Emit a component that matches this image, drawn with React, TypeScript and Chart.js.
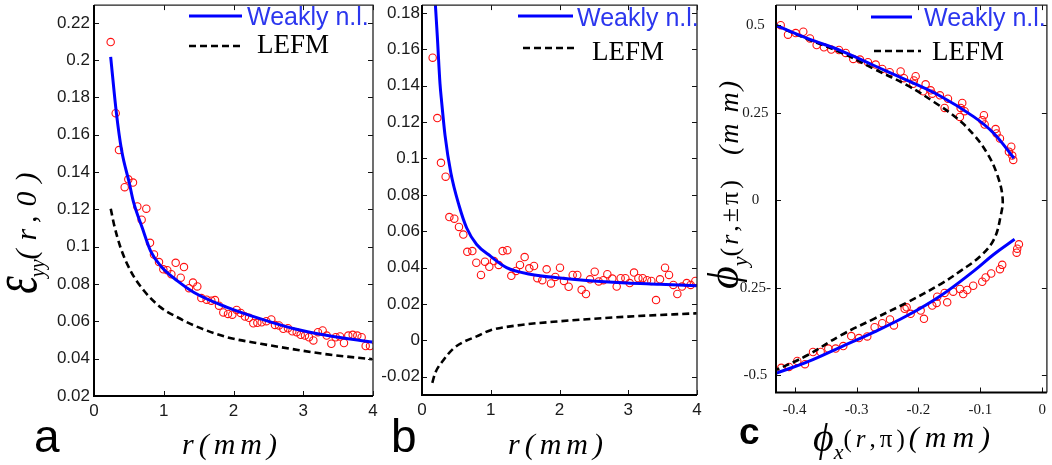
import React, { useEffect, useRef } from "react";
import { Chart, registerables } from "chart.js";

Chart.register(...registerables);

const SANS = '"Liberation Sans", Arial, Helvetica, sans-serif';
const SERIF = '"Liberation Serif", "Times New Roman", Times, serif';

// ---------------- Panel a ----------------
const A_X_TICKS = [0, 1, 2, 3, 4];
const A_X_LABELS = ["0", "1", "2", "3", "4"];
const A_Y_TICKS = [0.02, 0.04, 0.06, 0.08, 0.1, 0.12, 0.14, 0.16, 0.18, 0.2, 0.22];
const A_Y_LABELS = ["0.02", "0.04", "0.06", "0.08", "0.1", "0.12", "0.14", "0.16", "0.18", "0.2", "0.22"];
const A_WEAK_R = [0.239, 0.32, 0.395, 0.507, 0.564, 0.693, 0.812, 0.956, 1.195, 1.434, 1.91, 2.39, 2.87, 3.35, 3.99];
const A_WEAK_V = [0.2018, 0.172, 0.1518, 0.134, 0.1243, 0.11, 0.0977, 0.0897, 0.0817, 0.0755, 0.0675, 0.0613, 0.056, 0.0524, 0.0489];
const A_LEFM_R = [0.24, 0.287, 0.382, 0.526, 0.717, 0.956, 1.195, 1.434, 1.91, 2.39, 2.87, 3.35, 3.99];
const A_LEFM_V = [0.1204, 0.1119, 0.0994, 0.087, 0.0764, 0.0675, 0.0622, 0.0578, 0.0515, 0.048, 0.045, 0.0423, 0.0397];
const A_CIRC_R = [0.239, 0.311, 0.358, 0.44, 0.492, 0.559, 0.621, 0.683, 0.75, 0.803, 0.86, 0.932, 0.994, 1.051, 1.109, 1.171, 1.243, 1.29, 1.362, 1.419, 1.481, 1.539, 1.615, 1.682, 1.735, 1.792, 1.854, 1.921, 1.983, 2.045, 2.103, 2.165, 2.222, 2.284, 2.342, 2.404, 2.471, 2.542, 2.595, 2.652, 2.714, 2.781, 2.843, 2.906, 2.963, 3.025, 3.082, 3.145, 3.211, 3.278, 3.336, 3.403, 3.465, 3.527, 3.584, 3.646, 3.709, 3.775, 3.837, 3.895, 3.957];
const A_CIRC_V = [0.2097, 0.1716, 0.1518, 0.1319, 0.1361, 0.1344, 0.1216, 0.1145, 0.1204, 0.1021, 0.0959, 0.0918, 0.0879, 0.0874, 0.0853, 0.0914, 0.0834, 0.0891, 0.0778, 0.0808, 0.0787, 0.0725, 0.0716, 0.0711, 0.0714, 0.0684, 0.0648, 0.064, 0.0636, 0.0661, 0.0645, 0.0626, 0.0619, 0.059, 0.0592, 0.0595, 0.0601, 0.061, 0.0581, 0.0578, 0.056, 0.0563, 0.0547, 0.0542, 0.0528, 0.0524, 0.0515, 0.0498, 0.0542, 0.0551, 0.0524, 0.048, 0.0515, 0.0519, 0.0484, 0.0524, 0.0528, 0.0524, 0.0515, 0.0468, 0.0468];

// ---------------- Panel b ----------------
const B_X_TICKS = [0, 1, 2, 3, 4];
const B_X_LABELS = ["0", "1", "2", "3", "4"];
const B_Y_TICKS = [-0.02, 0, 0.02, 0.04, 0.06, 0.08, 0.1, 0.12, 0.14, 0.16, 0.18];
const B_Y_LABELS = ["-0.02", "0", "0.02", "0.04", "0.06", "0.08", "0.1", "0.12", "0.14", "0.16", "0.18"];
const B_WEAK_R = [0.195, 0.223, 0.262, 0.286, 0.335, 0.42, 0.54, 0.65, 0.795, 1.0, 1.23, 1.571, 2.007, 2.49, 2.977, 3.46, 4.0];
const B_WEAK_V = [0.1843, 0.167, 0.141, 0.131, 0.1127, 0.092, 0.074, 0.0618, 0.0527, 0.0462, 0.04, 0.0364, 0.0343, 0.0327, 0.0316, 0.0309, 0.03];
const B_LEFM_R = [0.15, 0.189, 0.31, 0.456, 0.601, 0.795, 0.989, 1.377, 1.993, 3.0, 3.995];
const B_LEFM_V = [-0.0233, -0.0182, -0.0109, -0.0045, -0.0009, 0.0022, 0.0055, 0.0082, 0.0105, 0.0131, 0.0149];
const B_CIRC_R = [0.155, 0.223, 0.276, 0.344, 0.398, 0.47, 0.538, 0.601, 0.659, 0.732, 0.79, 0.858, 0.916, 0.979, 1.047, 1.115, 1.173, 1.241, 1.299, 1.367, 1.425, 1.493, 1.561, 1.629, 1.678, 1.75, 1.813, 1.876, 1.939, 2.007, 2.065, 2.133, 2.192, 2.259, 2.322, 2.385, 2.444, 2.512, 2.57, 2.638, 2.696, 2.768, 2.832, 2.89, 2.958, 3.021, 3.084, 3.147, 3.21, 3.273, 3.336, 3.404, 3.462, 3.535, 3.593, 3.656, 3.714, 3.782, 3.85, 3.908, 3.976];
const B_CIRC_V = [0.1554, 0.1222, 0.0976, 0.09, 0.0678, 0.0669, 0.0624, 0.0582, 0.0487, 0.0491, 0.0427, 0.036, 0.0433, 0.0405, 0.0436, 0.0415, 0.0491, 0.0496, 0.0355, 0.0382, 0.0415, 0.0458, 0.0396, 0.0409, 0.0342, 0.0331, 0.0391, 0.0313, 0.0349, 0.04, 0.0327, 0.0295, 0.036, 0.036, 0.0278, 0.0255, 0.0336, 0.0378, 0.0324, 0.0331, 0.0364, 0.034, 0.0296, 0.0342, 0.0342, 0.0315, 0.0373, 0.0342, 0.0342, 0.0331, 0.0327, 0.0222, 0.0336, 0.04, 0.036, 0.0305, 0.0255, 0.0296, 0.0315, 0.0305, 0.0327];

// ---------------- Panel c ----------------
const C_X_TICKS = [-0.4, -0.3, -0.2, -0.1, 0];
const C_X_LABELS = ["-0.4", "-0.3", "-0.2", "-0.1", "0"];
const C_Y_TICKS = [-0.5, -0.25, 0, 0.25, 0.5];
const C_Y_LABELS = ["-0.5", "0.25-", "0", "0.25", "0.5"];
const C_WEAK_UP_X = [-0.4307, -0.3796, -0.3257, -0.2719, -0.218, -0.1641, -0.1103, -0.078, -0.0457];
const C_WEAK_UP_Y = [0.5, 0.4624, 0.4275, 0.3849, 0.3423, 0.2969, 0.2381, 0.1907, 0.1198];
const C_WEAK_LO_X = [-0.4307, -0.3796, -0.3257, -0.2719, -0.218, -0.1641, -0.1103, -0.078, -0.0446];
const C_WEAK_LO_Y = [-0.495, -0.462, -0.4195, -0.377, -0.3296, -0.2728, -0.2018, -0.1544, -0.1118];
const C_LEFM_X = [-0.4307, -0.3796, -0.3257, -0.2719, -0.218, -0.1749, -0.1373, -0.1103, -0.0889, -0.0727, -0.064, -0.0672, -0.078, -0.0995, -0.1318, -0.1641, -0.218, -0.2719, -0.3257, -0.3796, -0.4307];
const C_LEFM_Y = [0.5, 0.4604, 0.4226, 0.3752, 0.3281, 0.2807, 0.2333, 0.1862, 0.134, 0.0727, 0.006, -0.0457, -0.1118, -0.1592, -0.2018, -0.2396, -0.2918, -0.3389, -0.3863, -0.4431, -0.4857];
const C_CIRC_UP_X = [-0.4226, -0.4108, -0.3984, -0.3861, -0.3753, -0.3645, -0.3527, -0.3409, -0.3284, -0.3176, -0.3053, -0.2945, -0.2816, -0.2691, -0.2585, -0.2465, -0.2288, -0.2234, -0.2073, -0.2045, -0.2084, -0.1884, -0.1922, -0.1803, -0.1777, -0.1653, -0.1523, -0.1577, -0.1292, -0.1318, -0.1254, -0.133, -0.0942, -0.0969, -0.093, -0.0753, -0.0737, -0.0683, -0.05, -0.0538, -0.0484, -0.0468];
const C_CIRC_UP_Y = [0.5001, 0.4729, 0.4775, 0.4814, 0.4624, 0.4434, 0.4368, 0.4303, 0.4292, 0.4207, 0.4036, 0.4019, 0.3943, 0.3876, 0.3752, 0.3659, 0.3678, 0.3488, 0.3423, 0.3545, 0.3327, 0.331, 0.3111, 0.314, 0.3043, 0.2997, 0.2901, 0.2637, 0.2779, 0.2637, 0.2543, 0.2381, 0.243, 0.2288, 0.2163, 0.2032, 0.1907, 0.1766, 0.153, 0.1388, 0.1274, 0.1152];
const C_CIRC_LO_X = [-0.4216, -0.4092, -0.3958, -0.3834, -0.3704, -0.358, -0.3457, -0.3338, -0.3215, -0.3086, -0.2961, -0.2827, -0.2708, -0.2585, -0.246, -0.2396, -0.2223, -0.2191, -0.2126, -0.1964, -0.1911, -0.1777, -0.1696, -0.1706, -0.1577, -0.1535, -0.1438, -0.133, -0.1276, -0.1212, -0.1115, -0.0969, -0.0914, -0.0824, -0.0683, -0.0646, -0.0413, -0.0404, -0.0376];
const C_CIRC_LO_Y = [-0.4791, -0.4763, -0.4593, -0.4686, -0.4337, -0.4337, -0.4241, -0.4241, -0.4167, -0.3883, -0.394, -0.3892, -0.3628, -0.3514, -0.3409, -0.3579, -0.3105, -0.306, -0.3247, -0.3154, -0.3389, -0.3012, -0.2756, -0.2935, -0.2651, -0.2918, -0.2614, -0.2538, -0.268, -0.2566, -0.2444, -0.233, -0.2208, -0.2095, -0.197, -0.1848, -0.1499, -0.1385, -0.1261];

const zip = (xs: number[], ys: number[]) => {
  const n = Math.min(xs.length, ys.length);
  const out: { x: number; y: number }[] = [];
  for (let i = 0; i < n; i++) out.push({ x: xs[i], y: ys[i] });
  return out;
};

const BLUE = "#0000ff";
const BLUE_TEXT = "#2b36ee";
const RED = "#ff1010";

const decorPlugin = {
  id: "decor",
  afterDatasetsDraw(chart: any, _args: any, opts: any) {
    const { ctx, chartArea: ca, scales } = chart;
    const xs = scales.x;
    const ys = scales.y;
    ctx.save();
    ctx.strokeStyle = "#111";
    ctx.lineWidth = 1;
    ctx.beginPath();
    for (const t of xs.ticks) {
      const px = Math.round(xs.getPixelForValue(t.value)) + 0.5;
      ctx.moveTo(px, ca.bottom);
      ctx.lineTo(px, ca.bottom - 5);
      ctx.moveTo(px, ca.top);
      ctx.lineTo(px, ca.top + 5);
    }
    for (const t of ys.ticks) {
      const py = Math.round(ys.getPixelForValue(t.value)) + 0.5;
      ctx.moveTo(ca.left, py);
      ctx.lineTo(ca.left + 5, py);
      ctx.moveTo(ca.right, py);
      ctx.lineTo(ca.right - 5, py);
    }
    ctx.stroke();
    ctx.strokeStyle = "#222";
    ctx.lineWidth = 1.3;
    ctx.beginPath();
    ctx.moveTo(ca.left, ca.top);
    ctx.lineTo(ca.right, ca.top);
    ctx.lineTo(ca.right, ca.bottom);
    ctx.stroke();
    ctx.strokeStyle = "#000";
    ctx.lineWidth = 2;
    ctx.beginPath();
    ctx.moveTo(ca.left, ca.top);
    ctx.lineTo(ca.left, ca.bottom);
    ctx.lineTo(ca.right, ca.bottom);
    ctx.stroke();
    const L = opts && opts.legend;
    if (L) {
      ctx.lineCap = "butt";
      ctx.strokeStyle = BLUE;
      ctx.lineWidth = 3;
      ctx.setLineDash([]);
      ctx.beginPath();
      ctx.moveTo(L.blue[0], L.blue[2]);
      ctx.lineTo(L.blue[1], L.blue[2]);
      ctx.stroke();
      ctx.strokeStyle = "#000";
      ctx.lineWidth = 2.6;
      ctx.setLineDash([7, 4]);
      ctx.beginPath();
      ctx.moveTo(L.dash[0], L.dash[2]);
      ctx.lineTo(L.dash[1], L.dash[2]);
      ctx.stroke();
      ctx.setLineDash([]);
      ctx.textBaseline = "alphabetic";
      ctx.textAlign = "left";
      ctx.fillStyle = BLUE_TEXT;
      ctx.font = `25px ${SANS}`;
      ctx.fillText(L.blueLabel, L.blueText[0], L.blueText[1]);
      ctx.fillStyle = "#000";
      ctx.font = `27px ${SERIF}`;
      ctx.fillText(L.dashLabel, L.dashText[0], L.dashText[1]);
    }
    ctx.restore();
  },
};

type PanelCfg = {
  padding: { left: number; right: number; top: number; bottom: number };
  xMin: number; xMax: number; yMin: number; yMax: number;
  xTicks: number[]; xLabels: string[]; yTicks: number[]; yLabels: string[];
  tickFont: { family: string; size: number };
  xPad: number; yPad: number; yCross: "near" | "center";
  weak: { x: number; y: number }[][];
  lefm: { x: number; y: number }[];
  circles: { x: number; y: number }[];
  monotone: boolean;
  legend: any;
};

function buildChart(canvas: HTMLCanvasElement, cfg: PanelCfg) {
  const lineMode = cfg.monotone
    ? { cubicInterpolationMode: "monotone" as const }
    : { tension: 0.4 };
  const datasets: any[] = [];
  cfg.weak.forEach((seg) => {
    datasets.push({
      label: "Weakly n.l.",
      data: seg,
      showLine: true,
      borderColor: BLUE,
      backgroundColor: BLUE,
      borderWidth: 3,
      pointRadius: 0,
      fill: false,
      ...lineMode,
    });
  });
  datasets.push({
    label: "LEFM",
    data: cfg.lefm,
    showLine: true,
    borderColor: "#000",
    backgroundColor: "#000",
    borderWidth: 2.6,
    borderDash: [7, 4],
    pointRadius: 0,
    fill: false,
    ...lineMode,
  });
  datasets.push({
    label: "data",
    data: cfg.circles,
    showLine: false,
    pointStyle: "circle",
    pointRadius: 3.7,
    pointBorderWidth: 1.1,
    pointBorderColor: RED,
    pointBackgroundColor: "rgba(0,0,0,0)",
    borderColor: RED,
    backgroundColor: "rgba(0,0,0,0)",
  });

  const tickColor = "#1a1a1a";
  return new Chart(canvas, {
    type: "scatter",
    data: { datasets },
    plugins: [decorPlugin as any],
    options: {
      responsive: false,
      animation: false,
      events: [],
      layout: { padding: cfg.padding },
      plugins: {
        legend: { display: false },
        title: { display: false },
        tooltip: { enabled: false },
        decor: { legend: cfg.legend },
      } as any,
      scales: {
        x: {
          type: "linear",
          min: cfg.xMin,
          max: cfg.xMax,
          bounds: "data",
          grid: { display: false, drawTicks: false },
          border: { display: false },
          afterBuildTicks: (s: any) => {
            s.ticks = cfg.xTicks.map((v) => ({ value: v }));
          },
          afterFit: (s: any) => {
            s.height = 40;
            s.paddingLeft = 0;
            s.paddingRight = 0;
            s.paddingTop = 0;
            s.paddingBottom = 0;
          },
          ticks: {
            autoSkip: false,
            maxRotation: 0,
            minRotation: 0,
            padding: cfg.xPad,
            color: tickColor,
            font: cfg.tickFont,
            callback: (_v: any, i: number) => cfg.xLabels[i],
          },
        },
        y: {
          type: "linear",
          min: cfg.yMin,
          max: cfg.yMax,
          bounds: "data",
          grid: { display: false, drawTicks: false },
          border: { display: false },
          afterBuildTicks: (s: any) => {
            s.ticks = cfg.yTicks.map((v) => ({ value: v }));
          },
          afterFit: (s: any) => {
            s.width = 50;
            s.paddingLeft = 0;
            s.paddingRight = 0;
            s.paddingTop = 0;
            s.paddingBottom = 0;
          },
          ticks: {
            autoSkip: false,
            padding: cfg.yPad,
            crossAlign: cfg.yCross,
            color: tickColor,
            font: cfg.tickFont,
            callback: (_v: any, i: number) => cfg.yLabels[i],
          },
        },
      },
    } as any,
  });
}

const PANELS: PanelCfg[] = [
  {
    padding: { left: 44, right: 679, top: 1, bottom: 29 },
    xMin: 0, xMax: 4, yMin: 0.02, yMax: 0.2295,
    xTicks: A_X_TICKS, xLabels: A_X_LABELS, yTicks: A_Y_TICKS, yLabels: A_Y_LABELS,
    tickFont: { family: SANS, size: 17 },
    xPad: 5, yPad: 4, yCross: "near",
    weak: [zip(A_WEAK_R, A_WEAK_V)],
    lefm: zip(A_LEFM_R, A_LEFM_V),
    circles: zip(A_CIRC_R, A_CIRC_V),
    monotone: true,
    legend: {
      blue: [189, 242, 16], blueText: [247, 25], blueLabel: "Weakly n.l.",
      dash: [189, 242, 46], dashText: [257, 53], dashLabel: "LEFM",
    },
  },
  {
    padding: { left: 372, right: 355, top: 2, bottom: 30 },
    xMin: 0, xMax: 4, yMin: -0.03, yMax: 0.1843,
    xTicks: B_X_TICKS, xLabels: B_X_LABELS, yTicks: B_Y_TICKS, yLabels: B_Y_LABELS,
    tickFont: { family: SANS, size: 17 },
    xPad: 5, yPad: 2, yCross: "near",
    weak: [zip(B_WEAK_R, B_WEAK_V)],
    lefm: zip(B_LEFM_R, B_LEFM_V),
    circles: zip(B_CIRC_R, B_CIRC_V),
    monotone: true,
    legend: {
      blue: [518, 573, 16], blueText: [577, 26], blueLabel: "Weakly n.l.",
      dash: [523, 577, 48], dashText: [592, 60], dashLabel: "LEFM",
    },
  },
  {
    padding: { left: 726, right: 5, top: 2.5, bottom: 32.5 },
    xMin: -0.4302, xMax: 0.0076, yMin: -0.5495, yMax: 0.5575,
    xTicks: C_X_TICKS, xLabels: C_X_LABELS, yTicks: C_Y_TICKS, yLabels: C_Y_LABELS,
    tickFont: { family: SERIF, size: 15 },
    xPad: 9, yPad: 5, yCross: "center",
    weak: [zip(C_WEAK_UP_X, C_WEAK_UP_Y), zip(C_WEAK_LO_X, C_WEAK_LO_Y)],
    lefm: zip(C_LEFM_X, C_LEFM_Y),
    circles: zip(C_CIRC_UP_X, C_CIRC_UP_Y).concat(zip(C_CIRC_LO_X, C_CIRC_LO_Y)),
    monotone: false,
    legend: {
      blue: [871, 912, 17], blueText: [924, 26], blueLabel: "Weakly n.l.",
      dash: [874, 921, 51], dashText: [932, 60], dashLabel: "LEFM",
    },
  },
];

function PanelCanvas({ cfg }: { cfg: PanelCfg }) {
  const ref = useRef<HTMLCanvasElement | null>(null);
  useEffect(() => {
    if (!ref.current) return;
    const chart = buildChart(ref.current, cfg);
    return () => chart.destroy();
  }, [cfg]);
  return (
    <canvas
      ref={ref}
      width={1052}
      height={465}
      style={{ position: "absolute", left: 0, top: 0, width: 1052, height: 465 }}
    />
  );
}

const abs = (extra: React.CSSProperties): React.CSSProperties => ({
  position: "absolute",
  whiteSpace: "nowrap",
  color: "#000",
  lineHeight: 1,
  ...extra,
});

export default function App() {
  return (
    <div style={{ position: "absolute", left: 0, top: 0, width: 1052, height: 465, background: "#fff", overflow: "hidden" }}>
      {PANELS.map((p, i) => (
        <PanelCanvas key={i} cfg={p} />
      ))}

      {/* panel letters */}
      <div style={abs({ left: 34, top: 452 - 0.8465 * 46, fontFamily: SANS, fontSize: 46 })}>a</div>
      <div style={abs({ left: 391, top: 452 - 0.8465 * 46, fontFamily: SANS, fontSize: 46 })}>b</div>
      <div style={abs({ left: 739, top: 444 - 0.8465 * 37, fontFamily: SANS, fontSize: 37, fontWeight: 700 })}>c</div>

      {/* x titles a, b */}
      <div style={abs({ left: 232, top: 454 - 0.8375 * 30, transform: "translateX(-50%)", fontFamily: SERIF, fontStyle: "italic", fontSize: 30, letterSpacing: 5 })}>r(mm)</div>
      <div style={abs({ left: 558, top: 454 - 0.8375 * 30, transform: "translateX(-50%)", fontFamily: SERIF, fontStyle: "italic", fontSize: 30, letterSpacing: 5 })}>r(mm)</div>

      {/* x title c */}
      <div style={abs({ left: 813, top: 447 - 0.8375 * 30, fontFamily: SERIF, fontSize: 30 })}>
        <span style={{ fontStyle: "italic", fontSize: 40, lineHeight: 0, position: "relative", top: 4 }}>ϕ</span>
        <span style={{ fontStyle: "italic", fontSize: 22, lineHeight: 0, position: "relative", top: 12 }}>x</span>
        <span style={{ fontSize: 25, lineHeight: 0, letterSpacing: 4 }}>
          (<span style={{ fontStyle: "italic" }}>r</span>,π)
        </span>
        <span style={{ fontStyle: "italic", fontSize: 30, lineHeight: 0, letterSpacing: 6 }}>(mm)</span>
      </div>

      {/* y title a */}
      <div style={abs({ left: 26, top: 228, transform: "translate(-50%,-50%) rotate(-90deg)", fontFamily: SERIF, fontSize: 30 })}>
        <span style={{ display: "inline-block", fontStyle: "italic", fontSize: 64, lineHeight: 0, transform: "scaleX(0.7)", margin: "0 -5px 0 -5px" }}>ε</span>
        <span style={{ fontStyle: "italic", fontSize: 20, lineHeight: 0, position: "relative", top: 8 }}>yy</span>
        <span style={{ fontStyle: "italic", lineHeight: 0, letterSpacing: 9 }}>(r,0)</span>
      </div>

      {/* y title c */}
      <div style={abs({ left: 729, top: 184, transform: "translate(-50%,-50%) rotate(-90deg)", fontFamily: SERIF, fontSize: 28 })}>
        <span style={{ fontStyle: "italic", fontSize: 44, lineHeight: 0 }}>ϕ</span>
        <span style={{ fontStyle: "italic", fontSize: 22, lineHeight: 0, position: "relative", top: 9 }}>y</span>
        <span style={{ fontSize: 26, lineHeight: 0, letterSpacing: 3 }}>
          (<span style={{ fontStyle: "italic" }}>r</span>,±π)
        </span>
        <span style={{ display: "inline-block", width: 22 }} />
        <span style={{ fontStyle: "italic", fontSize: 28, lineHeight: 0, letterSpacing: 2 }}>(m m)</span>
      </div>
    </div>
  );
}
